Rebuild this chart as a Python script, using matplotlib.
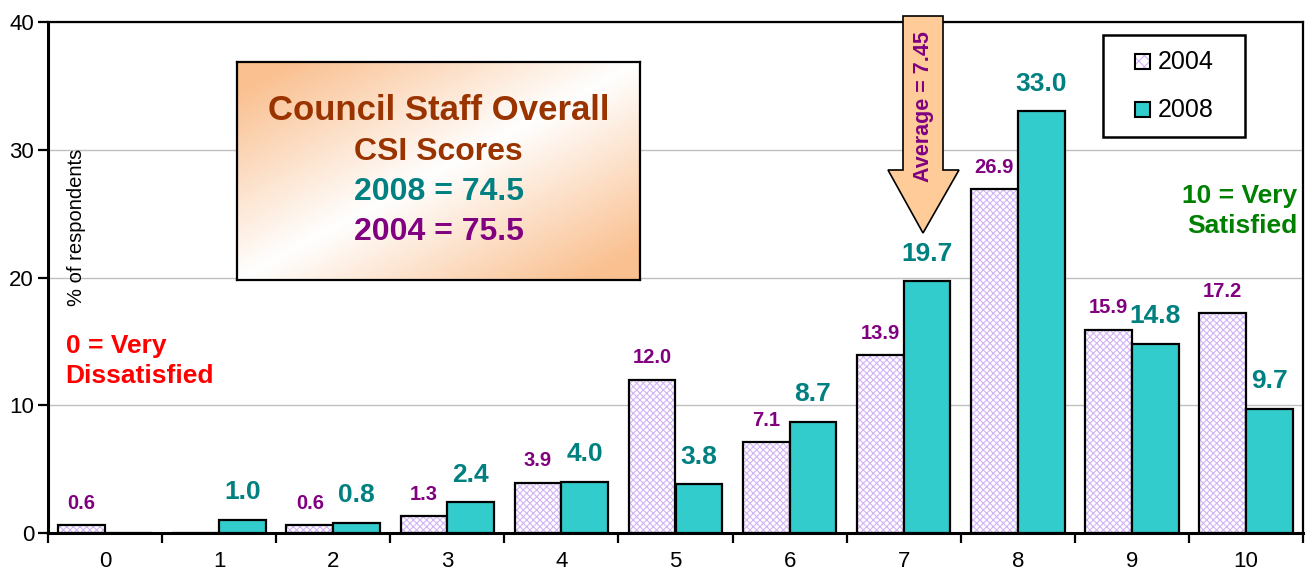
"""
plot.py
Council staff overall satisfaction: % of respondents per score, 2004 vs 2008.
"""

import matplotlib
matplotlib.use("Agg")
import matplotlib.pyplot as plt
import numpy as np
from matplotlib.patches import Polygon, Rectangle

plt.rcParams["font.family"] = ["Liberation Sans", "DejaVu Sans"]
plt.rcParams["hatch.linewidth"] = 0.8

scores = [0, 1, 2, 3, 4, 5, 6, 7, 8, 9, 10]
pct_2004 = [0.6, None, 0.6, 1.3, 3.9, 12.0, 7.1, 13.9, 26.9, 15.9, 17.2]
pct_2008 = [None, 1.0, 0.8, 2.4, 4.0, 3.8, 8.7, 19.7, 33.0, 14.8, 9.7]
y_ticks = [0, 10, 20, 30, 40]

TEAL = "#33CCCC"
TEAL_TXT = "#008080"
PURPLE = "#800080"
LAVENDER = "#D2B4F7"
BROWN = "#993300"
ORANGE = "#FAC090"
HATCH = "xxxxx"

W, H = 1308, 572


def fx(px):
    return px / W


def fy(py):
    return 1 - py / H


fig = plt.figure(figsize=(W / 100, H / 100), dpi=100)
ax = fig.add_axes([fx(48), fy(533), 1255 / W, 511 / H])

x = np.arange(len(scores))
bw = 0.41
v04 = np.array([v if v is not None else 0 for v in pct_2004])
v08 = np.array([v if v is not None else 0 for v in pct_2008])

# 2004: lavender hatch underneath, black outline on top
ax.bar(x - bw / 2, v04, bw, color="white", edgecolor=LAVENDER, hatch=HATCH,
       linewidth=0, zorder=2)
ax.bar(x - bw / 2, v04, bw, fill=False, edgecolor="black", linewidth=1.6, zorder=3)
ax.bar(x + bw / 2, v08, bw, color=TEAL, edgecolor="black", linewidth=1.6, zorder=3)

for xi, v in zip(x, pct_2004):
    if v is None:
        continue
    ax.annotate(f"{v:.1f}", (xi - bw / 2, v), xytext=(0, 16), textcoords="offset points",
                ha="center", va="center", fontsize=14.5, fontweight="bold", color=PURPLE)
for xi, v in zip(x, pct_2008):
    if v is None:
        continue
    ax.annotate(f"{v:.1f}", (xi + bw / 2, v), xytext=(0, 20), textcoords="offset points",
                ha="center", va="center", fontsize=19, fontweight="bold", color=TEAL_TXT)

ax.set_xlim(-0.5, 10.5)
ax.set_ylim(0, 40)
ax.set_yticks(y_ticks)
ax.set_xticks(x)
ax.set_xticklabels([str(s) for s in scores])
ax.set_xticks(np.arange(-0.5, 11, 1), minor=True)
ax.tick_params(axis="x", which="major", length=0, pad=13, labelsize=16)
ax.tick_params(axis="x", which="minor", length=7, width=1.6, direction="out")
ax.tick_params(axis="y", length=7, width=1.6, direction="out", labelsize=16, pad=3)
ax.yaxis.grid(True, color="#C0C0C0", linewidth=1)
ax.set_axisbelow(True)
for side in ["left", "bottom"]:
    ax.spines[side].set_linewidth(2.2)
for side in ["top", "right"]:
    ax.spines[side].set_linewidth(1.6)

ax.text(0.023, 0.599, "% of respondents", transform=ax.transAxes,
        rotation=90, ha="center", va="center", fontsize=14.5)
ax.text(0.014, 0.337, "0 = Very\nDissatisfied", transform=ax.transAxes,
        ha="left", va="center", fontsize=19, fontweight="bold", color="red",
        linespacing=1.3)
ax.text(0.9955, 0.630, "10 = Very\nSatisfied", transform=ax.transAxes,
        ha="right", va="center", fontsize=19, fontweight="bold", color="#008000",
        linespacing=1.3)

# legend, drawn by hand to match the boxed layout
fig.patches.append(Rectangle((fx(1103), fy(137)), 142 / W, 102 / H, transform=fig.transFigure,
                             facecolor="white", edgecolor="black", linewidth=1.8, zorder=5))
fig.patches.append(Rectangle((fx(1135), fy(69)), 15 / W, 15 / H, transform=fig.transFigure,
                             facecolor="white", edgecolor=LAVENDER, hatch="xxx",
                             linewidth=0, zorder=6))
fig.patches.append(Rectangle((fx(1135), fy(69)), 15 / W, 15 / H, transform=fig.transFigure,
                             fill=False, edgecolor="black", linewidth=1.5, zorder=6))
fig.patches.append(Rectangle((fx(1135), fy(117)), 15 / W, 15 / H, transform=fig.transFigure,
                             facecolor=TEAL, edgecolor="black", linewidth=1.5, zorder=6))
for label, py in [("2004", 62), ("2008", 110)]:
    fig.text(fx(1158), fy(py), label, ha="left", va="center", fontsize=18, zorder=7)

# gradient title box
bx = fig.add_axes([fx(237), fy(280), 403 / W, 218 / H], zorder=5)
gu, gv = np.meshgrid(np.linspace(0, 1, 200), np.linspace(0, 1, 120))
s = np.clip(np.abs(gu + gv - 1) * 1.15, 0, 1)
orange = np.array(matplotlib.colors.to_rgb(ORANGE))
img = (1 - s[..., None]) * 1.0 + s[..., None] * orange
bx.imshow(img, extent=[0, 1, 0, 1], aspect="auto", origin="upper")
bx.set_xticks([])
bx.set_yticks([])
for sp in bx.spines.values():
    sp.set_linewidth(1.6)
lines = [("Council Staff Overall", BROWN, 25, 110),
         ("CSI Scores", BROWN, 23, 152),
         ("2008 = 74.5", TEAL_TXT, 23, 192),
         ("2004 = 75.5", PURPLE, 23, 232)]
for txt, col, fs, py in lines:
    bx.text(0.5, (280 - py) / 218, txt, transform=bx.transAxes, ha="center", va="center",
            fontsize=fs, fontweight="bold", color=col)

# average arrow
pts = [(903, 16), (943, 16), (943, 170), (959, 170), (923, 233), (888, 170), (903, 170)]
arrow = Polygon([(fx(px), fy(py)) for px, py in pts], closed=True,
                transform=fig.transFigure, facecolor="#FFCC99", edgecolor="black",
                linewidth=1.2, zorder=6)
fig.patches.append(arrow)
fig.text(fx(923), fy(107), "Average = 7.45", rotation=90, ha="center", va="center",
         fontsize=15.5, fontweight="bold", color=PURPLE, zorder=7)

fig.savefig("out.png", dpi=100)
